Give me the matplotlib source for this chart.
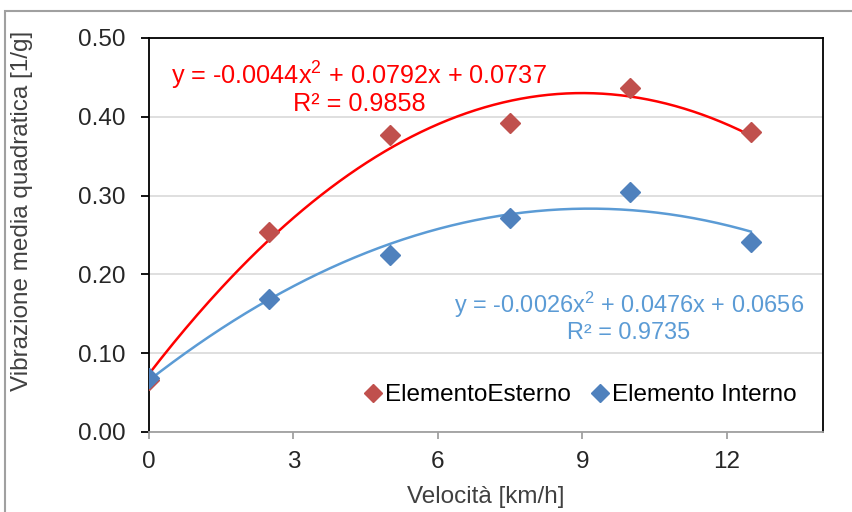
import numpy as np
import matplotlib
matplotlib.use("Agg")
import matplotlib.pyplot as plt
from matplotlib.patches import Rectangle

# dati
velocita = [0, 2.5, 5, 7.5, 10, 12.5]
esterno = [0.066, 0.254, 0.377, 0.392, 0.436, 0.381]
interno = [0.068, 0.169, 0.225, 0.272, 0.305, 0.241]

# coefficienti delle linee di tendenza (dalle etichette)
coef_esterno = [-0.0044, 0.0792, 0.0737]
coef_interno = [-0.0026, 0.0476, 0.0656]
eq_esterno = "y = -0.0044x$^2$ + 0.0792x + 0.0737\nR² = 0.9858"
eq_interno = "y = -0.0026x$^2$ + 0.0476x + 0.0656\nR² = 0.9735"

plt.rcParams['font.family'] = ['Liberation Sans', 'DejaVu Sans']
plt.rcParams['mathtext.fontset'] = 'custom'
plt.rcParams['mathtext.rm'] = 'Liberation Sans'

FS = 17.5

fig = plt.figure(figsize=(8.53, 5.12), dpi=100)
# bordo esterno del grafico (tagliato a destra e in basso)
fig.patches.append(Rectangle((5/853, -0.1), 1.2, 1.1 - 11/512, transform=fig.transFigure,
                             fill=False, edgecolor='#a0a0a0', lw=1.5))

ax = fig.add_axes([149/853, 1 - 432/512, (823 - 149)/853, (432 - 38)/512])

xx = np.linspace(0, 12.5, 200)
ax.plot(xx, np.polyval(coef_esterno, xx), color='#ff0000', lw=1.8, zorder=2)
ax.plot(xx, np.polyval(coef_interno, xx), color='#5b9bd5', lw=1.8, zorder=2)
ax.plot(velocita, esterno, 'D', color='#c0504d', ms=10, ls='none', label='ElementoEsterno', zorder=3)
ax.plot(velocita, interno, 'D', color='#4f81bd', ms=10, ls='none', label='Elemento Interno', zorder=3)

ax.text(359/853, 1 - 88/512, eq_esterno, transform=fig.transFigure, color='#ff0000',
        fontsize=18.2, ha='center', va='center', multialignment='center', linespacing=1.0)
ax.text(629/853, 1 - 317/512, eq_interno, transform=fig.transFigure, color='#5b9bd5',
        fontsize=16.9, ha='center', va='center', multialignment='center', linespacing=1.05)

ax.set_xlim(0, 14)
ax.set_ylim(0, 0.5)
ax.set_xticks([0, 3, 6, 9, 12])
ax.set_yticks(np.arange(0, 0.51, 0.1))
ax.yaxis.set_major_formatter(matplotlib.ticker.FormatStrFormatter('%.2f'))
ax.grid(axis='y', color='#d9d9d9', lw=1.2)
ax.set_axisbelow(True)
ax.tick_params(axis='y', labelsize=FS, direction='out', length=6, width=1.3, color='black',
               labelcolor='#262626', pad=11)
ax.tick_params(axis='x', labelsize=FS, direction='out', length=5, width=1.3, color='#a0a0a0',
               labelcolor='#262626', pad=9)

for s in ['top', 'right', 'left']:
    ax.spines[s].set_color('black')
    ax.spines[s].set_linewidth(1.3)
ax.spines['bottom'].set_color('#a0a0a0')
ax.spines['bottom'].set_linewidth(1.3)

ax.set_xlabel('Velocità [km/h]', fontsize=FS, color='#404040')
ax.set_ylabel('Vibrazione media quadratica [1/g]', fontsize=FS, color='#404040')
ax.xaxis.set_label_coords(0.5, (432 - 497) / 394, transform=ax.transAxes)
ax.yaxis.set_label_coords((22 - 149) / 674, (432 - 211) / 394, transform=ax.transAxes)
ax.xaxis.label.set_va('center')
ax.yaxis.label.set_va('center')

ax.legend(loc='center right', ncol=2, frameon=False, fontsize=FS, handletextpad=0.0,
          columnspacing=0.7, handlelength=1.0, markerscale=0.9,
          bbox_to_anchor=((797 - 149) / 674, (432 - 395) / 394), borderaxespad=0, borderpad=0)

fig.savefig('out.png', dpi=100)
